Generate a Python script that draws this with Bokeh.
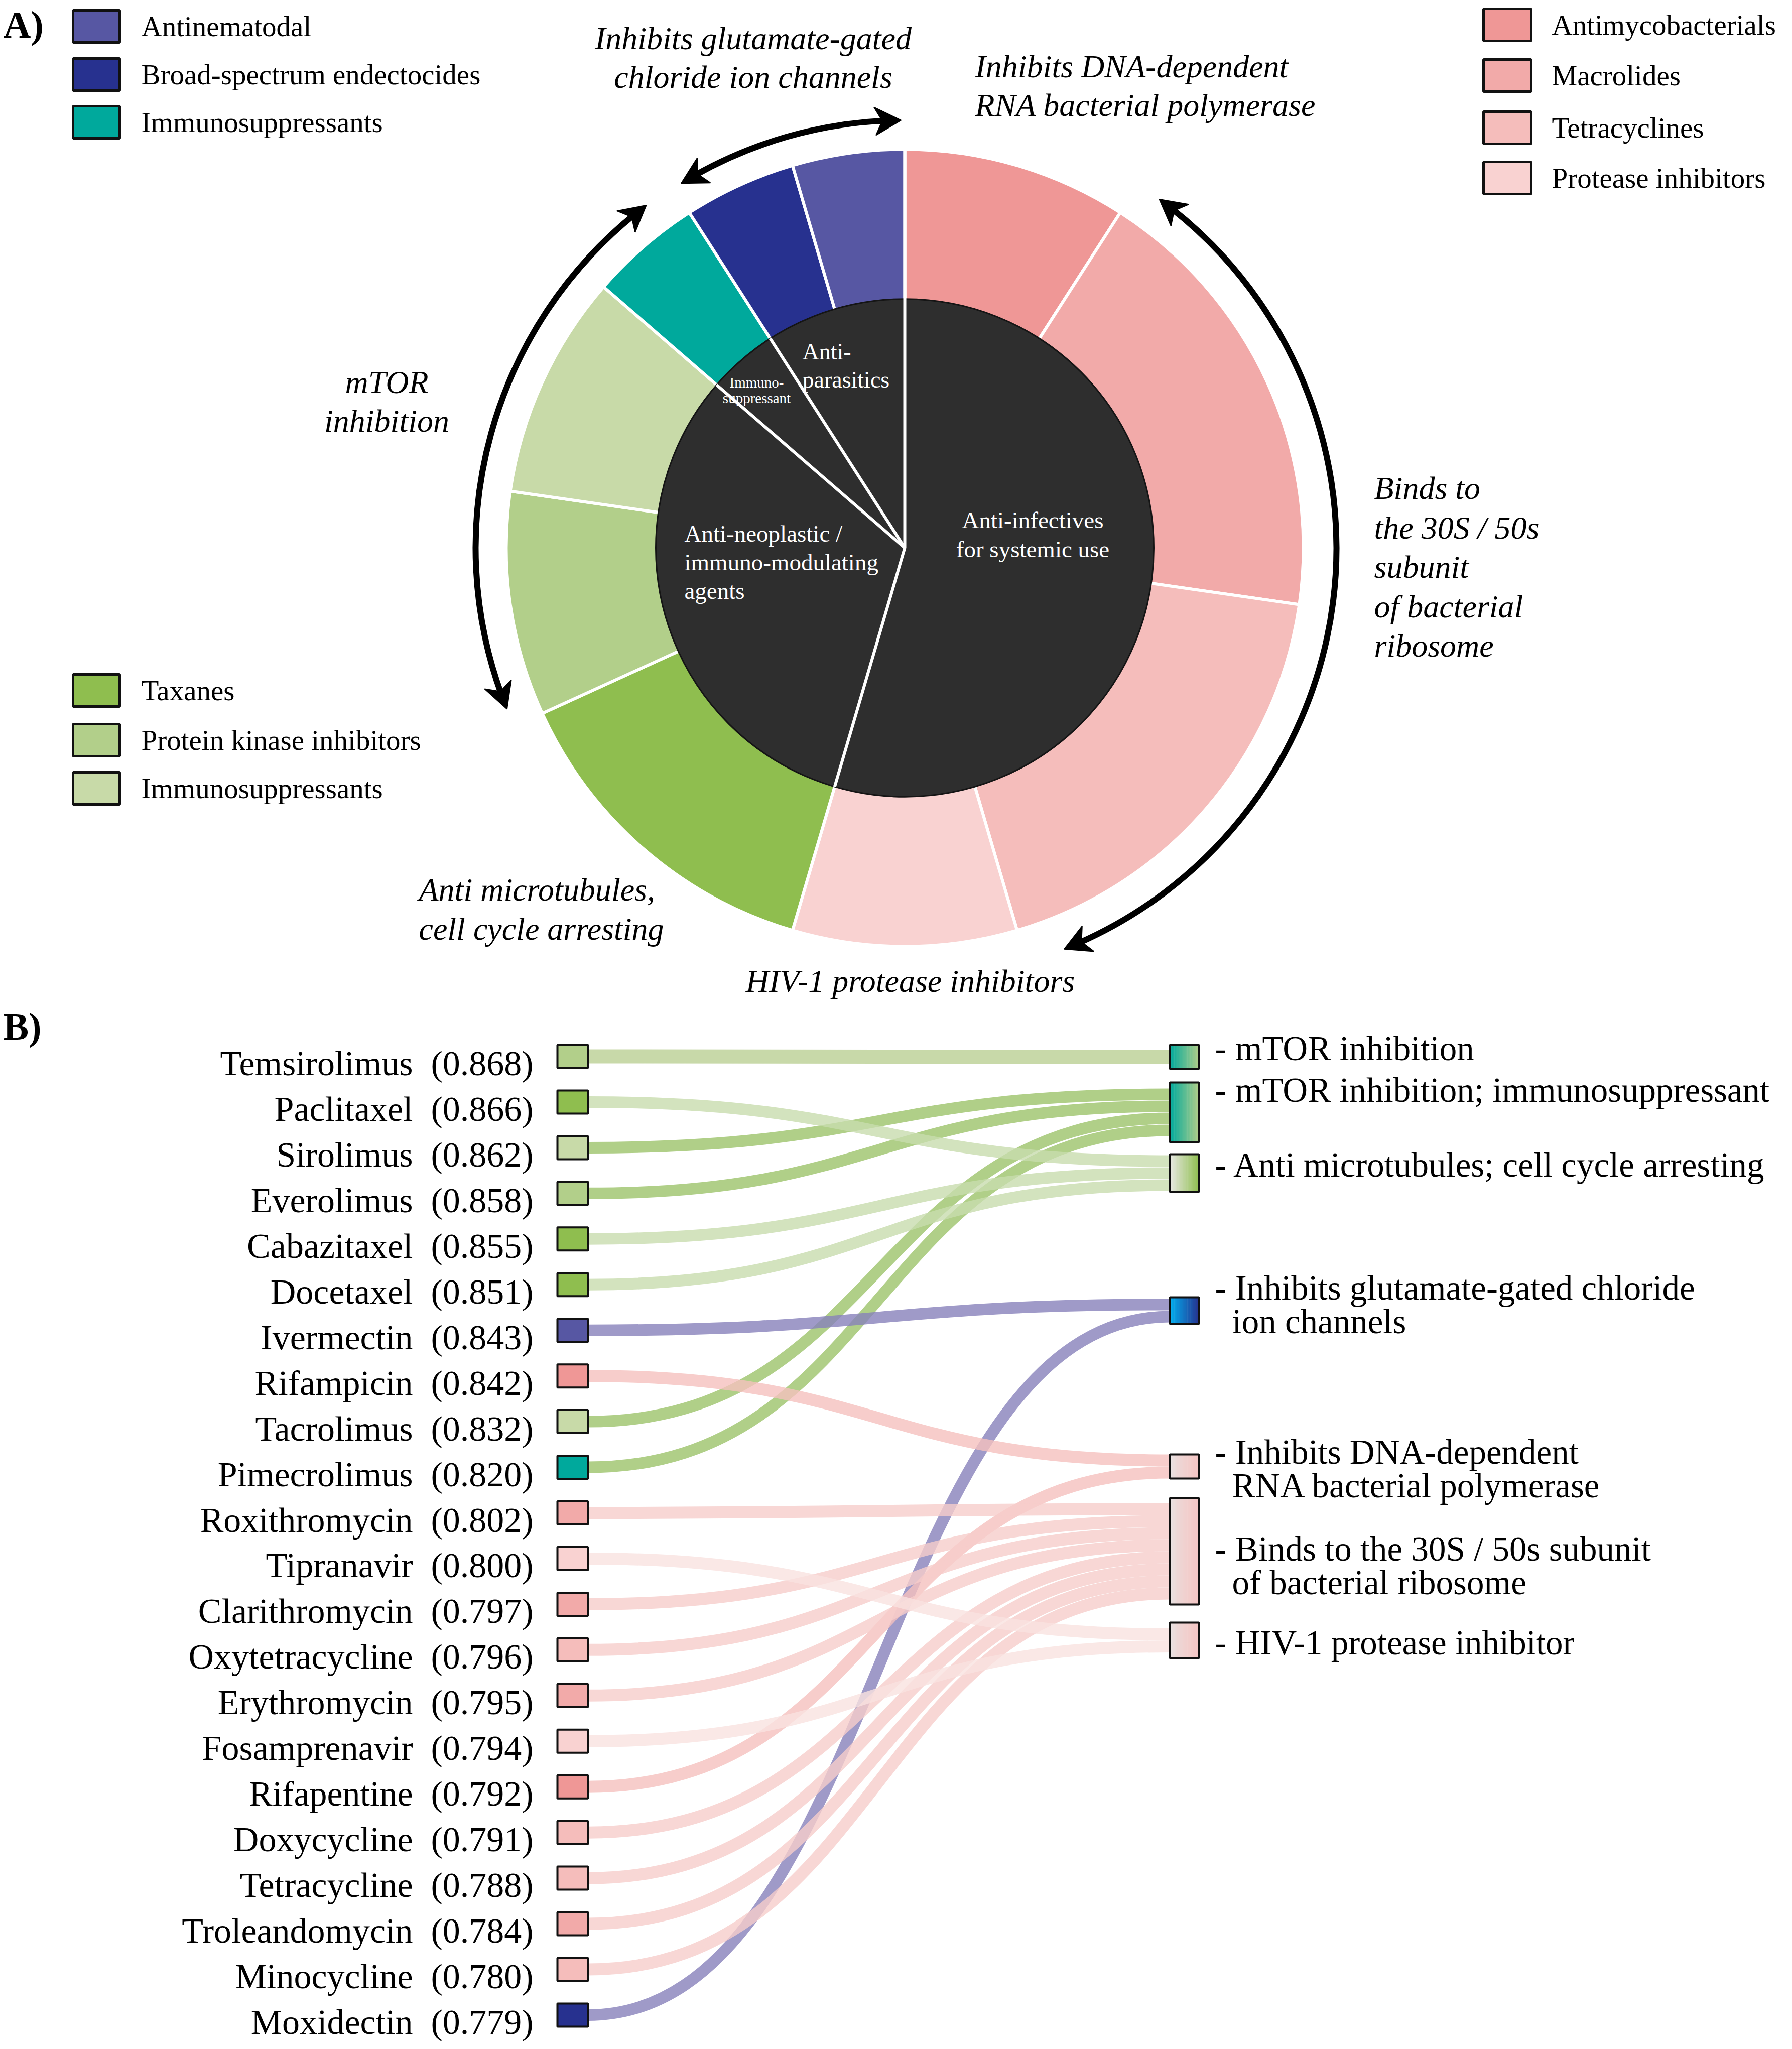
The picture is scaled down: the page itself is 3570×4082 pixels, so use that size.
import numpy as np
from bokeh.plotting import figure
from bokeh.models import Range1d, ColumnDataSource
from bokeh.embed import file_html
from bokeh.resources import INLINE
from bokeh.core.properties import value

# ---------------- data ----------------
drugs = ["Temsirolimus", "Paclitaxel", "Sirolimus", "Everolimus", "Cabazitaxel",
         "Docetaxel", "Ivermectin", "Rifampicin", "Tacrolimus", "Pimecrolimus",
         "Roxithromycin", "Tipranavir", "Clarithromycin", "Oxytetracycline",
         "Erythromycin", "Fosamprenavir", "Rifapentine", "Doxycycline",
         "Tetracycline", "Troleandomycin", "Minocycline", "Moxidectin"]
scores = [0.868, 0.866, 0.862, 0.858, 0.855, 0.851, 0.843, 0.842, 0.832, 0.820,
          0.802, 0.800, 0.797, 0.796, 0.795, 0.794, 0.792, 0.791, 0.788, 0.784,
          0.780, 0.779]
drug_class = ["pki", "taxane", "immuno_l", "pki", "taxane", "taxane", "antinem",
              "antimyco", "immuno_l", "immuno_d", "macrolide", "protease",
              "macrolide", "tetracycline", "macrolide", "protease", "antimyco",
              "tetracycline", "tetracycline", "macrolide", "tetracycline", "endecto"]
drug_mech = [0, 2, 1, 1, 2, 2, 3, 4, 1, 1, 5, 6, 5, 5, 5, 6, 4, 5, 5, 5, 5, 3]

class_keys = ["antimyco", "macrolide", "tetracycline", "protease", "taxane", "pki",
              "immuno_l", "immuno_d", "endecto", "antinem"]
class_labels = ["Antimycobacterials", "Macrolides", "Tetracyclines", "Protease inhibitors",
                "Taxanes", "Protein kinase inhibitors", "Immunosuppressants",
                "Immunosuppressants", "Broad-spectrum endectocides", "Antinematodal"]
class_group = [0, 0, 0, 0, 1, 1, 1, 2, 3, 3]
group_labels = ["Anti-infectives\nfor systemic use",
                "Anti-neoplastic /\nimmuno-modulating\nagents",
                "Immuno-\nsuppressant",
                "Anti-\nparasitics"]
mechanisms = ["mTOR inhibition",
              "mTOR inhibition; immunosuppressant",
              "Anti microtubules; cell cycle arresting",
              "Inhibits glutamate-gated chloride\nion channels",
              "Inhibits DNA-dependent\nRNA bacterial polymerase",
              "Binds to the 30S / 50s subunit\nof bacterial ribosome",
              "HIV-1 protease inhibitor"]
annotations = ["Inhibits glutamate-gated\nchloride ion channels",
               "Inhibits DNA-dependent\nRNA bacterial polymerase",
               "mTOR\ninhibition",
               "Binds to\nthe 30S / 50s\nsubunit\nof bacterial\nribosome",
               "Anti microtubules,\ncell cycle arresting",
               "HIV-1 protease inhibitors"]
arrow_classes = [["endecto", "antinem"], ["pki", "immuno_l", "immuno_d"],
                 ["macrolide", "tetracycline"]]
legend_top_left = ["antinem", "endecto", "immuno_d"]
legend_bottom_left = ["taxane", "pki", "immuno_l"]
legend_top_right = ["antimyco", "macrolide", "tetracycline", "protease"]

# ---------------- styles / layout ----------------
class_colors = {"antimyco": "#EF9796", "macrolide": "#F2AAA9", "tetracycline": "#F5BDBB",
                "protease": "#F9D2D1", "taxane": "#8FBE4F", "pki": "#B2CF8A",
                "immuno_l": "#C8DAA8", "immuno_d": "#00A99C", "endecto": "#27318F",
                "antinem": "#5757A3"}
PIE_DARK = "#2E2E2E"
SERIF = value("Liberation Serif")

W, H = 3554, 4066
def Y(y):
    return 4074 - y

p = figure(width=W, height=H, x_range=Range1d(8, 8 + W), y_range=Range1d(0, H),
           output_backend="svg", toolbar_location=None, min_border=0, title=None,
           x_axis_location=None, y_axis_location=None)
p.grid.visible = False
p.outline_line_color = None
p.background_fill_color = "white"
p.border_fill_color = "white"

def text(xs, ys, ts, size, align="left", style="normal", color="black"):
    p.text(x=xs, y=[Y(v) for v in ys], text=ts, text_font=SERIF,
           text_font_size=size, text_align=align, text_baseline="middle",
           text_font_style=style, text_color=color)

# ---------------- panel A: donut ----------------
CX, CY = 1810, 1099
R_IN, R_OUT = 496, 794

counts = [drug_class.count(k) for k in class_keys]
cum = np.concatenate([[0], np.cumsum(counts)])
total = cum[-1]
th = cum / total * 2 * np.pi  # clockwise from 12 o'clock
ring = ColumnDataSource(dict(
    start=[np.pi / 2 - th[i + 1] for i in range(len(counts))],
    end=[np.pi / 2 - th[i] for i in range(len(counts))],
    color=[class_colors[k] for k in class_keys]))
p.wedge(x=CX, y=Y(CY), radius=R_OUT, start_angle="start", end_angle="end",
        fill_color="color", line_color="white", line_width=6, source=ring)

group_counts = [sum(c for c, g in zip(counts, class_group) if g == gi) for gi in range(len(group_labels))]
gcum = np.concatenate([[0], np.cumsum(group_counts)])
gth = gcum / total * 2 * np.pi
p.wedge(x=CX, y=Y(CY), radius=R_IN,
        start_angle=[np.pi / 2 - gth[i + 1] for i in range(len(group_counts))],
        end_angle=[np.pi / 2 - gth[i] for i in range(len(group_counts))],
        fill_color=PIE_DARK, line_color=None)
p.arc(x=CX, y=Y(CY), radius=R_IN, start_angle=0, end_angle=2 * np.pi,
      line_color="#151515", line_width=3)
# white separators of inner pie
p.segment(x0=[CX] * len(group_counts), y0=[Y(CY)] * len(group_counts),
          x1=[CX + R_IN * np.sin(a) for a in gth[:-1]],
          y1=[Y(CY - R_IN * np.cos(a)) for a in gth[:-1]],
          line_color="white", line_width=6)
# top separator continues through ring
p.segment(x0=CX, y0=Y(CY - R_IN), x1=CX, y1=Y(CY - R_OUT), line_color="white", line_width=6)

# group labels inside the pie
glay = [(2065, 1043, 58, "center", "47px"), (1371, 1070, 57, "left", "47px"),
        (1515, 769, 31, "center", "29px"), (1606, 708, 56, "left", "46px")]
for lab, (gx, gy, gap, al, fs) in zip(group_labels, glay):
    lines = lab.split("\n")
    text([gx] * len(lines), [gy + k * gap for k in range(len(lines))], lines, fs, al, "normal", "white")

# curved double arrows
def pol(t, r):
    return CX + r * np.sin(t), CY - r * np.cos(t)

arrow_lay = [(852, 1.2, 0.5), (855, 2.5, 4.3), (860, 3.4, 5.3)]
HL, HW = 52, 28
heads_x, heads_y = [], []
for cls, (R, ins0, ins1) in zip(arrow_classes, arrow_lay):
    idx = [class_keys.index(c) for c in cls]
    t0 = th[min(idx)] + np.radians(ins0)
    t1 = th[max(idx) + 1] - np.radians(ins1)
    d = HL / R
    p.arc(x=CX, y=Y(CY), radius=R, start_angle=np.pi / 2 - (t1 - 0.6 * d),
          end_angle=np.pi / 2 - (t0 + 0.6 * d), line_color="black", line_width=12)
    for tt, sgn in ((t1, 1), (t0, -1)):
        tb = tt - sgn * d
        tn = tt - sgn * 0.72 * d
        pts = [pol(tt, R), pol(tb, R + HW), pol(tn, R), pol(tb, R - HW)]
        heads_x.append([q[0] for q in pts])
        heads_y.append([Y(q[1]) for q in pts])
p.patches(xs=heads_x, ys=heads_y, fill_color="black", line_color="black", line_width=2)

# italic annotations
alay = [(1508, 84, 77, "center"), (1950, 140, 77, "left"), (778, 769, 77, "center"),
        (2745, 980, 78.5, "left"), (842, 1780, 78, "left"), (1821, 1962, 0, "center")]
for lab, (ax, ay, gap, al) in zip(annotations, alay):
    lines = lab.split("\n")
    text([ax] * len(lines), [ay + k * gap for k in range(len(lines))], lines, "64px", al, "italic")

# legends
def legend(keys, x0, x1, ys, tx):
    idx = [class_keys.index(k) for k in keys]
    p.quad(left=x0, right=x1, top=[Y(v - 32) for v in ys], bottom=[Y(v + 32) for v in ys],
           fill_color=[class_colors[k] for k in keys], line_color="#111111", line_width=5)
    text([tx] * len(keys), ys, [class_labels[i] for i in idx], "57px", "left")

legend(legend_top_left, 153, 246, [60, 156, 251], 289)
legend(legend_bottom_left, 153, 246, [1383, 1482, 1578], 289)
legend(legend_top_right, 2963, 3058, [57, 158, 262, 362], 3099)

text([14], [56], ["A)"], "76px", "left", "bold")
text([14], [2052], ["B)"], "76px", "left", "bold")

# ---------------- panel B: sankey ----------------
ROW0, ROW_STEP = 2112, 90.95
XL0, XL1 = 1118, 1179
XR0, XR1 = 2338, 2396
mech_top = [2089, 2164, 2307, 2592, 2905, 2992, 3240]
mech_bot = [2137, 2283, 2382, 2645, 2953, 3204, 3311]
mech_label_y = [2096, 2179, 2328, 2573, 2900, 3093, 3280]
SLOT = 24
link_colors = ["#BACF93", "#9CC36A", "#C8DCAE", "#8781BA", "#F5C0BE", "#F6CDCA", "#F9E2E0"]
link_widths = [28, 23, 23, 23, 24, 24, 24]
grad = [("#00A99C", "#B2CF8A"), ("#00A99C", "#B2CF8A"), ("#E8E8E4", "#8FBE4F"),
        ("#00B0F0", "#27318F"), ("#E6E6E6", "#F5C6C4"), ("#E6E6E6", "#F5C6C4"),
        ("#E6E6E6", "#F5C6C4")]

row_y = [ROW0 + i * ROW_STEP for i in range(len(drugs))]

lk = dict(x0=[], y0=[], x1=[], y1=[], cx0=[], cy0=[], cx1=[], cy1=[], c=[], w=[])
for m in range(len(mechanisms)):
    members = [i for i, dm in enumerate(drug_mech) if dm == m]
    mid = (mech_top[m] + mech_bot[m]) / 2
    for k, i in enumerate(members):
        ys = row_y[i]
        ye = mid + (k - (len(members) - 1) / 2) * SLOT
        dx = (XR0 - XL1) / 2
        lk["x0"].append(XL1); lk["y0"].append(Y(ys))
        lk["x1"].append(XR0); lk["y1"].append(Y(ye))
        lk["cx0"].append(XL1 + dx); lk["cy0"].append(Y(ys))
        lk["cx1"].append(XR0 - dx); lk["cy1"].append(Y(ye))
        lk["c"].append(link_colors[m]); lk["w"].append(link_widths[m])
p.bezier(x0="x0", y0="y0", x1="x1", y1="y1", cx0="cx0", cy0="cy0", cx1="cx1", cy1="cy1",
         line_color="c", line_width="w", line_alpha=0.8, source=ColumnDataSource(lk))

# drug boxes
p.quad(left=XL0, right=XL1, top=[Y(v - 23) for v in row_y], bottom=[Y(v + 23) for v in row_y],
       fill_color=[class_colors[c] for c in drug_class], line_color="#111111", line_width=4)
text([830] * len(drugs), [v + 14 for v in row_y], drugs, "70px", "right")
text([866] * len(drugs), [v + 14 for v in row_y], ["(%.3f)" % s for s in scores], "70px", "left")

# mechanism boxes with gradient
def mix(c0, c1, t):
    a = np.array([int(c0[i:i + 2], 16) for i in (1, 3, 5)])
    b = np.array([int(c1[i:i + 2], 16) for i in (1, 3, 5)])
    v = (a + (b - a) * t).round().astype(int)
    return "#%02x%02x%02x" % tuple(v)

NS = 20
gl, gr, gt, gb, gc = [], [], [], [], []
for m in range(len(mechanisms)):
    for s in range(NS):
        t = (s + 0.5) / NS
        gl.append(XR0 + (XR1 - XR0) * s / NS); gr.append(XR0 + (XR1 - XR0) * (s + 1) / NS + 0.5)
        gt.append(Y(mech_top[m])); gb.append(Y(mech_bot[m]))
        tt = t ** 0.6 if m >= 4 else t
        gc.append(mix(grad[m][0], grad[m][1], tt))
p.quad(left=gl, right=gr, top=gt, bottom=gb, fill_color=gc, line_color=None)
p.quad(left=XR0, right=XR1, top=[Y(v) for v in mech_top], bottom=[Y(v) for v in mech_bot],
       fill_color=None, line_color="#111111", line_width=4)

lx, ly, lt = [], [], []
for m, lab in enumerate(mechanisms):
    lines = lab.split("\n")
    lx.append(2428); ly.append(mech_label_y[m]); lt.append("- " + lines[0])
    for k, ln in enumerate(lines[1:]):
        lx.append(2462); ly.append(mech_label_y[m] + 67 * (k + 1)); lt.append(ln)
text(lx, ly, lt, "69px", "left")

open("out.html", "w").write(file_html(p, INLINE))
